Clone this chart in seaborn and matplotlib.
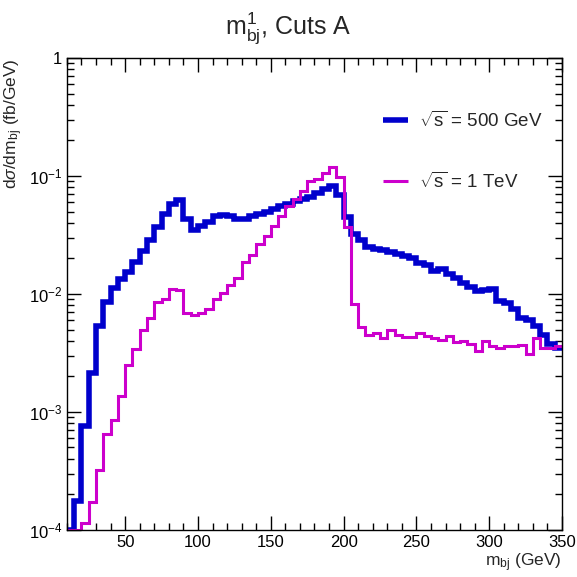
import numpy as np
import pandas as pd
import seaborn as sns
import matplotlib
matplotlib.use("Agg")
import matplotlib.pyplot as plt
from matplotlib.ticker import MultipleLocator, LogLocator, FuncFormatter, NullFormatter

# bin edges of the m_bj histogram (GeV), 5 GeV bins from 10 to 350
bin_lo = 10
bin_hi = 350
bin_w = 5

# dsigma/dm_bj (fb/GeV), one value per bin, sqrt(s) = 500 GeV
xs_500 = [1.0e-4, 1.75e-4, 7.6e-4, 2.15e-3, 5.4e-3, 8.5e-3, 1.13e-2, 1.35e-2,
          1.53e-2, 1.86e-2, 2.3e-2, 2.86e-2, 3.7e-2, 4.8e-2, 5.8e-2, 6.3e-2,
          4.35e-2, 3.5e-2, 3.75e-2, 4.05e-2, 4.57e-2, 4.68e-2, 4.57e-2, 4.3e-2,
          4.35e-2, 4.57e-2, 4.8e-2, 5.0e-2, 5.25e-2, 5.6e-2, 5.8e-2, 6.1e-2,
          6.4e-2, 6.7e-2, 7.2e-2, 7.8e-2, 8.3e-2, 6.95e-2, 4.45e-2, 3.2e-2,
          2.85e-2, 2.5e-2, 2.4e-2, 2.38e-2, 2.25e-2, 2.2e-2, 2.1e-2, 2.0e-2,
          1.82e-2, 1.75e-2, 1.56e-2, 1.63e-2, 1.47e-2, 1.37e-2, 1.25e-2, 1.14e-2,
          1.06e-2, 1.08e-2, 1.10e-2, 8.7e-3, 8.4e-3, 7.4e-3, 6.3e-3, 6.0e-3,
          5.4e-3, 4.5e-3, 3.75e-3, 3.5e-3]

# sqrt(s) = 1 TeV
xs_1000 = [1.0e-4, 1.0e-4, 1.15e-4, 1.73e-4, 3.2e-4, 6.5e-4, 8.5e-4, 1.37e-3,
           2.5e-3, 3.45e-3, 5.0e-3, 6.2e-3, 8.5e-3, 9.0e-3, 1.11e-2, 1.08e-2,
           6.95e-3, 6.6e-3, 6.95e-3, 7.5e-3, 9.0e-3, 1.01e-2, 1.2e-2, 1.37e-2,
           1.86e-2, 2.12e-2, 2.63e-2, 3.13e-2, 3.8e-2, 4.6e-2, 5.6e-2, 6.4e-2,
           7.4e-2, 9.0e-2, 9.4e-2, 1.05e-1, 1.19e-1, 9.8e-2, 3.7e-2, 8.3e-3,
           5.2e-3, 4.47e-3, 4.65e-3, 4.27e-3, 4.95e-3, 4.45e-3, 4.35e-3, 4.35e-3,
           4.65e-3, 4.4e-3, 4.2e-3, 4.1e-3, 4.4e-3, 3.92e-3, 3.97e-3, 3.75e-3,
           3.3e-3, 3.97e-3, 3.63e-3, 3.5e-3, 3.63e-3, 3.6e-3, 3.68e-3, 3.1e-3,
           4.27e-3, 3.5e-3, 3.5e-3, 3.65e-3]

labels = [r"$\sqrt{\mathregular{s}}$ = 500 GeV", r"$\sqrt{\mathregular{s}}$ = 1 TeV"]
colors = ["#0000cc", "#cc00cc"]
widths = [4.0, 2.2]

sns.set_style("ticks")
plt.rcParams["font.family"] = ["Liberation Sans", "DejaVu Sans"]
plt.rcParams["mathtext.fontset"] = "custom"
plt.rcParams["mathtext.rm"] = "Liberation Sans"
plt.rcParams["mathtext.it"] = "Liberation Sans:italic"
plt.rcParams["mathtext.bf"] = "Liberation Sans:bold"

edges = np.arange(bin_lo, bin_hi + bin_w, bin_w)

fig = plt.figure(figsize=(5.77, 5.77), dpi=100)
ax = fig.add_axes([0.116, 0.0815, 0.858, 0.818])

for vals, lab, col, lw in zip([xs_500, xs_1000], labels, colors, widths):
    df = pd.DataFrame({"m": edges, "y": list(vals) + [vals[-1]]})
    sns.lineplot(data=df, x="m", y="y", drawstyle="steps-post", color=col,
                 linewidth=lw, label=lab, ax=ax, estimator=None,
                 solid_joinstyle="miter", solid_capstyle="butt")

ax.set_yscale("log")
ax.set_xlim(bin_lo, bin_hi)
ax.set_ylim(1e-4, 1)

ax.xaxis.set_major_locator(MultipleLocator(50))
ax.xaxis.set_minor_locator(MultipleLocator(10))
ax.yaxis.set_major_locator(LogLocator(base=10, numticks=10))
ax.yaxis.set_minor_locator(LogLocator(base=10, subs=np.arange(2, 10), numticks=20))
ax.yaxis.set_minor_formatter(NullFormatter())


def fmt_y(v, pos):
    e = int(round(np.log10(v)))
    if e == 0:
        return "1"
    return r"$\mathregular{10^{%d}}$" % e


ax.yaxis.set_major_formatter(FuncFormatter(fmt_y))

ax.tick_params(which="both", direction="in", top=True, right=True,
               labelsize=12, colors="black", width=1)
ax.tick_params(which="major", length=10)
ax.tick_params(which="minor", length=5)
for s in ax.spines.values():
    s.set_color("black")
    s.set_linewidth(1.0)

ax.set_xlabel(r"m$_{\mathregular{bj}}$ (GeV)", fontsize=12.5, loc="right")
ax.xaxis.set_label_coords(1.0, -0.045)
ax.set_ylabel(r"d$\sigma$/dm$_{\mathregular{bj}}$ (fb/GeV)", fontsize=12.5, loc="top")
ax.yaxis.set_label_coords(-0.085, 1.0)

fig.text(0.5, 1 - 28 / 577, r"$\mathregular{m^{1}_{bj}}$, Cuts A", fontsize=18,
         ha="center", va="center")

ax.legend(loc="upper left", bbox_to_anchor=(0.605, 0.925), frameon=False,
          fontsize=13.5, handlelength=1.3, handletextpad=0.6, labelspacing=2.2)

fig.savefig("out.png", dpi=100, facecolor="white")
